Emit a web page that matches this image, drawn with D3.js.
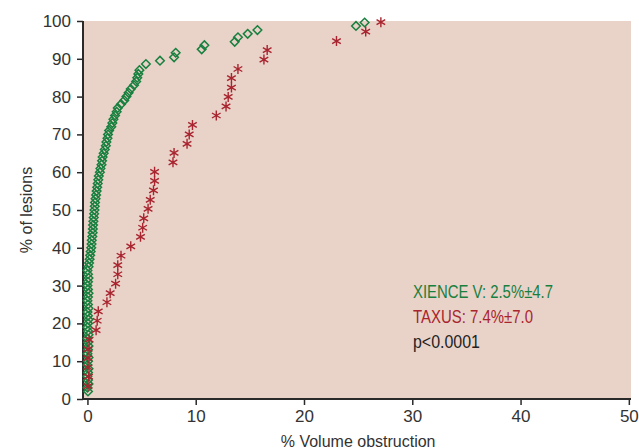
<!DOCTYPE html>
<html>
<head>
<meta charset="utf-8">
<script src="https://cdn.jsdelivr.net/npm/d3@7"></script>
<style>
  html, body { margin: 0; padding: 0; background: #fff; }
  svg { display: block; }
</style>
</head>
<body>
<svg id="chart" width="639" height="448"></svg>
<script>
// ---- Data ----
const xTicks = [0, 10, 20, 30, 40, 50];
const yTicks = [0, 10, 20, 30, 40, 50, 60, 70, 80, 90, 100];

// XIENCE V: % volume obstruction (x) vs cumulative % of lesions (y)
const xienceX = [
  0.05, 0.0, 0.1, 0.05, 0.0, 0.05, 0.1, 0.0, 0.05, 0.1,
  0.0, 0.05, 0.1, 0.05, 0.0, 0.1, 0.05, 0.0, 0.05, 0.1,
  0.05, 0.0, 0.1, 0.05, 0.0, 0.05, 0.1, 0.05, 0.0, 0.05,
  0.1, 0.05, 0.0, 0.1, 0.15, 0.2, 0.25, 0.3, 0.35, 0.38,
  0.4, 0.45, 0.48, 0.5, 0.52, 0.55, 0.58, 0.62, 0.65, 0.68,
  0.7, 0.75, 0.8, 0.85, 0.9, 0.95, 1.0, 1.05, 1.15, 1.2,
  1.3, 1.35, 1.4, 1.5, 1.6, 1.7, 1.75, 1.85, 1.9, 2.0,
  2.2, 2.3, 2.4, 2.55, 2.7, 2.8, 3.1, 3.4, 3.6, 3.8,
  4.0, 4.3, 4.5, 4.6, 4.7, 4.8,
  5.4, 6.7, 8.0, 8.15, 10.55, 10.8, 13.6, 13.9, 14.8, 15.7, 24.8, 25.6
];
const xienceY = [
  2, 3, 4, 5, 6, 7, 8, 9, 10, 11,
  12, 13, 14, 15, 16, 17, 18, 19, 20, 21,
  22, 23, 24, 25, 26, 27, 28, 29, 30, 31,
  32, 33, 34, 35, 36, 37, 38, 39, 40, 41,
  42, 43, 44, 45, 46, 47, 48, 49, 50, 51,
  52, 53, 54, 55, 56, 57, 58, 59, 60, 61,
  62, 63, 64, 65, 66, 67, 68, 69, 70, 71,
  72, 73, 74, 75, 76, 77, 78, 79, 80, 81,
  82, 83, 84, 85, 86, 87,
  88.6, 89.5, 90.4, 91.6, 92.5, 93.6, 94.5, 95.7, 96.6, 97.6, 98.7, 99.6
];

// TAXUS
const taxusX = [
  0.05, 0.1, 0.05, 0.05, 0.05, 0.15, 0.8, 0.9, 1.0, 1.8,
  2.1, 2.6, 2.8, 2.8, 3.1, 4.0, 4.9, 5.1, 5.2, 5.6,
  5.8, 6.1, 6.2, 6.2, 7.9, 8.0, 9.2, 9.4, 9.7, 11.9,
  12.8, 13.0, 13.3, 13.3, 13.9, 16.3, 16.6, 23.0, 25.7, 27.1
];
const taxusY = [
  3.4, 5.9, 8.4, 10.8, 13.2, 15.7, 18.2, 20.7, 23.2, 25.6,
  28.0, 30.5, 33.0, 35.4, 37.9, 40.4, 42.9, 45.3, 47.8, 50.3,
  52.7, 55.2, 57.7, 60.1, 62.6, 65.1, 67.5, 70.0, 72.5, 75.0,
  77.4, 79.9, 82.4, 84.9, 87.3, 89.8, 92.3, 94.7, 97.2, 99.7
];

const legendLines = ["XIENCE V: 2.5%\u00B14.7", "TAXUS: 7.4%\u00B17.0", "p<0.0001"];
const xTitle = "% Volume obstruction";
const yTitle = "% of lesions";

// ---- Drawing ----
(function () {
const svg = d3.select("#chart");
const pL = 83, pR = 631, pT = 21, pB = 399;

const x = d3.scaleLinear().domain([-0.41, 50.2]).range([pL, pR]);
const y = d3.scaleLinear().domain([0, 100]).range([pB, pT]);

const green = "#18803f";
const red = "#a8242f";
const axisColor = "#2a2a2a";
const textColor = "#333333";

svg.append("rect")
  .attr("x", pL).attr("y", pT)
  .attr("width", pR - pL).attr("height", pB - pT)
  .attr("fill", "#e9d2c8");

// Axes
const yAxis = d3.axisLeft(y).tickValues(yTicks).tickSize(6).tickPadding(6).tickSizeOuter(0);
const gy = svg.append("g").attr("transform", `translate(${pL},0)`).call(yAxis);
const xAxis = d3.axisBottom(x).tickValues(xTicks).tickSize(6).tickPadding(5).tickSizeOuter(0);
const gx = svg.append("g").attr("transform", `translate(0,${pB})`).call(xAxis);

[gx, gy].forEach(g => {
  g.select(".domain").attr("stroke", axisColor).attr("stroke-width", 2);
  g.selectAll(".tick line").attr("stroke", axisColor).attr("stroke-width", 1.5);
  g.selectAll(".tick text")
    .attr("fill", textColor)
    .style("font-family", "'Liberation Sans', Arial, sans-serif")
    .style("font-size", "17px");
});
gy.select(".domain").attr("d", `M0,${pT}V${pB}`);
gx.select(".domain").attr("d", `M${pL},0H${pR}`);

// Axis titles
svg.append("text")
  .attr("x", (x(0) + x(50)) / 2).attr("y", 447)
  .attr("text-anchor", "middle")
  .attr("fill", textColor)
  .style("font-family", "'Liberation Sans', Arial, sans-serif")
  .style("font-size", "16px")
  .text(xTitle);

svg.append("text")
  .attr("transform", `translate(32,${(pT + pB) / 2}) rotate(-90)`)
  .attr("text-anchor", "middle")
  .attr("fill", textColor)
  .style("font-family", "'Liberation Sans', Arial, sans-serif")
  .style("font-size", "16px")
  .text(yTitle);

// XIENCE diamonds
const xienceData = xienceX.map((v, i) => ({ x: v, y: xienceY[i] }));
svg.append("g").selectAll("path")
  .data(xienceData).join("path")
  .attr("transform", d => `translate(${x(d.x)},${y(d.y)})`)
  .attr("d", "M0,-4.3L4.3,0L0,4.3L-4.3,0Z")
  .attr("fill", "none")
  .attr("stroke", green)
  .attr("stroke-width", 1.5);

// TAXUS asterisks
const taxusData = taxusX.map((v, i) => ({ x: v, y: taxusY[i] }));
const r = 5;
const c30 = r * Math.cos(Math.PI / 6), s30 = r * Math.sin(Math.PI / 6);
const starPath = `M0,${-r}V${r}M${-c30},${-s30}L${c30},${s30}M${-c30},${s30}L${c30},${-s30}`;
svg.append("g").selectAll("path")
  .data(taxusData).join("path")
  .attr("transform", d => `translate(${x(d.x)},${y(d.y)})`)
  .attr("d", starPath)
  .attr("fill", "none")
  .attr("stroke", red)
  .attr("stroke-width", 1.4);

// Legend text
const legendColors = [green, red, "#222"];
const legendWidths = [140, 120, 67];
legendLines.forEach((t, i) => {
  svg.append("text")
    .attr("x", 413).attr("y", 298 + i * 25)
    .attr("fill", legendColors[i])
    .attr("textLength", legendWidths[i])
    .attr("lengthAdjust", "spacingAndGlyphs")
    .style("font-family", "'Liberation Sans Narrow', 'Liberation Sans', Arial, sans-serif")
    .style("font-size", "19px")
    .text(t);
});
})();
</script>
</body>
</html>
